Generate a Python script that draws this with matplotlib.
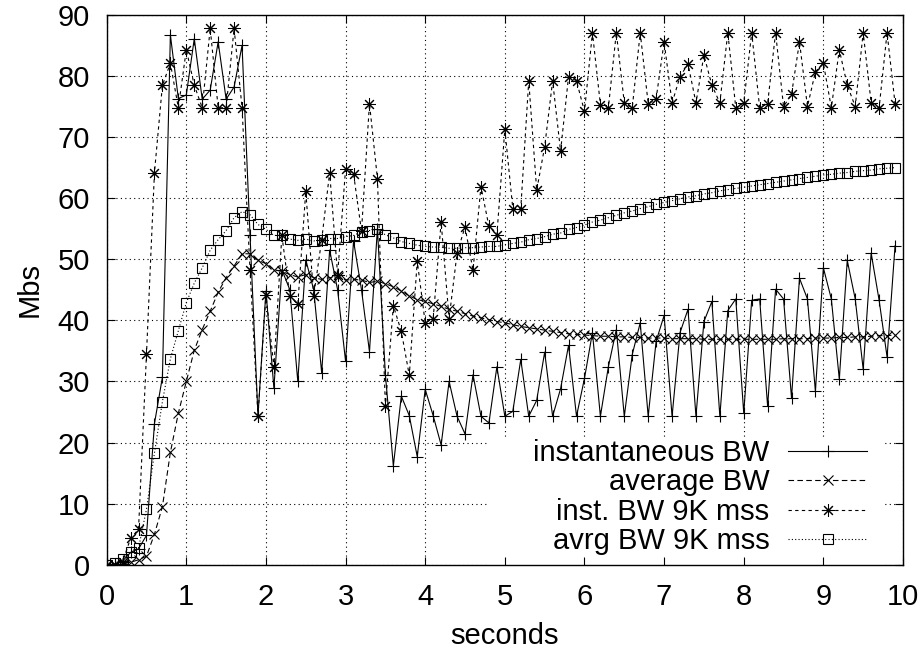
import numpy as np
import matplotlib
matplotlib.use("Agg")
import matplotlib.pyplot as plt
from matplotlib.patches import Rectangle

plt.rcParams['font.family'] = ['Liberation Sans', 'DejaVu Sans']

# samples every 0.1 s
seconds = np.arange(100) / 10

inst_bw = [
    0.0, 0.1, 0.6, 2.0, 2.6, 4.8, 23.1, 30.7, 86.7, 76.3,
    76.9, 86.1, 76.2, 77.7, 85.6, 76.2, 78.2, 85.0, 54.0, 24.4,
    44.8, 28.9, 48.3, 45.0, 30.0, 49.9, 45.0, 31.4, 51.5, 45.0,
    33.3, 53.0, 45.0, 34.9, 55.0, 31.1, 16.2, 27.6, 24.4, 17.7,
    28.7, 24.4, 19.6, 30.0, 24.3, 21.4, 31.1, 24.3, 23.2, 32.4,
    24.3, 25.1, 33.6, 24.3, 26.9, 34.8, 24.3, 28.8, 35.9, 24.3,
    30.5, 38.0, 24.3, 32.4, 38.5, 24.3, 34.4, 39.6, 24.3, 36.6,
    40.8, 24.3, 38.0, 41.8, 24.3, 39.8, 43.1, 24.3, 41.6, 43.5,
    24.8, 43.3, 43.5, 25.9, 45.1, 43.5, 27.3, 46.9, 43.5, 28.4,
    48.6, 43.5, 30.4, 49.8, 43.5, 32.0, 51.0, 43.3, 34.0, 52.2,
]

avg_bw = [
    0.0, 0.0, 0.1, 0.4, 0.8, 1.4, 5.0, 9.5, 18.4, 24.8,
    30.0, 35.1, 38.5, 41.5, 44.6, 47.0, 48.9, 50.9, 50.9, 49.8,
    49.3, 48.3, 48.0, 47.5, 47.1, 47.5, 47.0, 46.7, 47.0, 47.1,
    46.6, 46.7, 46.6, 46.2, 46.4, 46.0, 45.5, 44.8, 44.0, 43.4,
    43.1, 42.7, 42.3, 41.8, 41.5, 41.1, 40.7, 40.4, 40.1, 39.8,
    39.6, 39.3, 39.0, 38.8, 38.6, 38.4, 38.2, 38.0, 37.8, 37.7,
    37.6, 37.5, 37.4, 37.4, 37.3, 37.3, 37.2, 37.2, 37.1, 37.1,
    37.1, 37.0, 37.0, 37.0, 37.0, 36.9, 36.9, 36.9, 36.9, 36.9,
    36.9, 36.9, 36.9, 36.9, 36.9, 37.0, 37.0, 37.0, 37.0, 37.1,
    37.1, 37.1, 37.2, 37.2, 37.3, 37.3, 37.4, 37.5, 37.5, 37.6,
]

inst_bw_9k = [
    0.0, 0.0, 0.5, 4.3, 5.8, 34.5, 64.2, 78.5, 82.1, 74.8,
    84.3, 78.5, 74.8, 87.8, 74.8, 74.8, 87.8, 74.8, 48.3, 24.4,
    44.2, 32.4, 53.9, 44.0, 42.6, 61.1, 44.0, 53.2, 64.2, 47.5,
    64.8, 64.0, 54.6, 75.5, 63.2, 25.9, 42.4, 38.2, 31.0, 49.7,
    39.6, 40.3, 56.1, 40.3, 51.0, 55.3, 48.2, 61.9, 55.4, 54.0,
    71.3, 58.3, 58.3, 79.2, 61.3, 68.4, 79.2, 67.7, 79.9, 79.2,
    74.2, 87.1, 75.3, 74.8, 87.1, 75.6, 74.8, 87.1, 75.5, 76.3,
    85.6, 75.6, 79.9, 82.0, 75.6, 83.4, 78.5, 75.6, 87.1, 74.8,
    75.6, 87.1, 74.8, 75.5, 87.1, 75.0, 77.0, 85.6, 75.0, 80.7,
    82.1, 74.8, 84.3, 78.5, 75.0, 87.1, 75.6, 74.8, 87.1, 75.5,
]

avg_bw_9k = [
    0.0, 0.2, 0.9, 2.0, 2.7, 9.1, 18.3, 26.7, 33.7, 38.3,
    42.9, 46.1, 48.6, 51.5, 53.2, 54.7, 56.8, 57.8, 57.3, 55.7,
    54.9, 53.9, 53.9, 53.3, 53.1, 53.3, 53.0, 53.2, 53.4, 53.4,
    53.7, 53.9, 54.5, 54.7, 54.9, 54.0, 53.5, 52.9, 52.6, 52.3,
    52.1, 52.0, 52.0, 51.8, 51.8, 51.9, 51.9, 52.0, 52.1, 52.1,
    52.4, 52.6, 52.8, 53.2, 53.4, 53.7, 54.1, 54.3, 54.9, 55.2,
    55.6, 56.1, 56.4, 56.8, 57.2, 57.6, 57.9, 58.3, 58.6, 59.0,
    59.3, 59.6, 59.9, 60.2, 60.4, 60.7, 60.9, 61.2, 61.4, 61.6,
    61.8, 62.0, 62.2, 62.4, 62.6, 62.8, 63.0, 63.2, 63.4, 63.6,
    63.8, 63.9, 64.1, 64.2, 64.4, 64.5, 64.6, 64.8, 64.9, 65.0,
]

labels = ["instantaneous BW", "average BW", "inst. BW 9K mss", "avrg BW 9K mss"]
x_ticks = list(range(0, 11))
y_ticks = list(range(0, 91, 10))
fs = 21

fig = plt.figure(figsize=(9.22, 6.52), dpi=100)
pos = [0.1157, 0.1339, 0.8637, 0.8432]

# grid lives in its own axes underneath, so the key box can hide it
gax = fig.add_axes(pos)
gax.set_xlim(0, 10)
gax.set_ylim(0, 90)
gax.set_xticks(x_ticks)
gax.set_yticks(y_ticks)
gax.grid(True, color='black', linestyle=(0, (1, 3)), linewidth=0.8)
gax.tick_params(length=0, labelbottom=False, labelleft=False)
for s in gax.spines.values():
    s.set_visible(False)

ax = fig.add_axes(pos)
ax.set_facecolor('none')
ax.add_patch(Rectangle((0.480, 0.0), 0.497, 0.2308, transform=ax.transAxes,
                       facecolor='white', edgecolor='none', zorder=1))

lw = 0.8
ax.plot(seconds, inst_bw, color='black', lw=lw, linestyle='-',
        marker='+', markersize=8, markeredgewidth=lw, label=labels[0])
ax.plot(seconds, avg_bw, color='black', lw=lw, linestyle=(0, (5, 3)),
        marker='x', markersize=7, markeredgewidth=lw, label=labels[1])
ax.plot(seconds, inst_bw_9k, color='black', lw=lw, linestyle=(0, (3, 3)),
        marker=(8, 2, 0), markersize=9, markeredgewidth=0.75, label=labels[2])
ax.plot(seconds, avg_bw_9k, color='black', lw=lw, linestyle=(0, (1, 2)),
        marker='s', markersize=7, markerfacecolor='none', markeredgewidth=lw,
        label=labels[3])

ax.set_xlim(0, 10)
ax.set_ylim(0, 90)
ax.set_xticks(x_ticks)
ax.set_yticks(y_ticks)
ax.tick_params(direction='in', length=5.8, width=0.8, top=True, right=True,
               labelsize=fs)
ax.tick_params(axis='y', pad=12)
ax.tick_params(axis='x', pad=13)
for s in ax.spines.values():
    s.set_linewidth(1.0)

ax.set_xlabel("seconds", fontsize=fs, labelpad=8)
ax.set_ylabel("Mbs", fontsize=fs, labelpad=10)

ax.legend(loc='lower right', bbox_to_anchor=(0.9548, 0.017), frameon=False,
          markerfirst=False, handlelength=2.7, handletextpad=0.65,
          labelspacing=0.05, borderpad=0, borderaxespad=0, fontsize=fs)

fig.savefig("out.png", dpi=100)
